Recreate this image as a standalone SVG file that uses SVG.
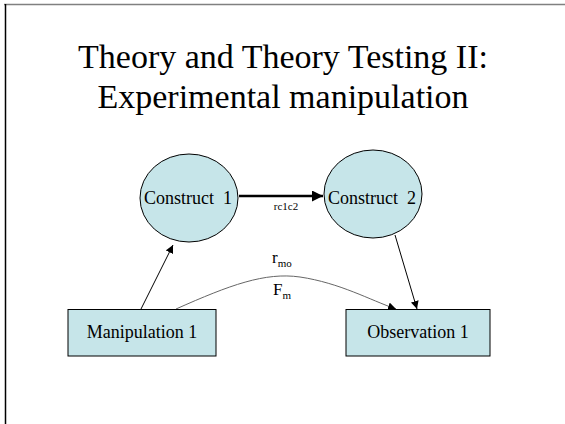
<svg xmlns="http://www.w3.org/2000/svg" width="565" height="424" viewBox="0 0 565 424">
<style>
.t{font-family:"Liberation Serif","Times New Roman",serif;fill:#000}
.node{fill:#c6e5e9;stroke:#000;stroke-width:1}
.lbl{font-size:18px;text-anchor:middle;white-space:pre}
</style>
<defs>
<marker id="ah" viewBox="0 0 10 10" refX="10" refY="5" markerWidth="8" markerHeight="8" markerUnits="userSpaceOnUse" orient="auto"><path d="M0,0 L10,5 L0,10 z" fill="#000"/></marker>
<marker id="ahBig" viewBox="0 0 10 10" refX="10" refY="5" markerWidth="11" markerHeight="11" markerUnits="userSpaceOnUse" orient="auto"><path d="M0,0 L10,5 L0,10 z" fill="#000"/></marker>
</defs>
<rect width="565" height="424" fill="#fff"/>
<line x1="4" y1="4.5" x2="565" y2="4.5" stroke="#808080" stroke-width="1.5"/>
<line x1="5.5" y1="4" x2="5.5" y2="424" stroke="#000" stroke-width="1.5"/>
<g id="title">
<text class="t" x="283" y="68" font-size="34" text-anchor="middle">Theory and Theory Testing II:</text>
<text class="t" x="283" y="108" font-size="34" text-anchor="middle">Experimental manipulation</text>
</g>
<g id="connectors">
<line x1="239" y1="196" x2="323" y2="196" stroke="#000" stroke-width="2.5" marker-end="url(#ahBig)"/>
<line x1="141" y1="309" x2="173" y2="245" stroke="#000" stroke-width="1" marker-end="url(#ah)"/>
<line x1="395" y1="235" x2="417" y2="309" stroke="#000" stroke-width="1" marker-end="url(#ah)"/>
<path d="M176,309 C230,285 265,272 300,277 C340,283 370,300 396,309" fill="none" stroke="#666" stroke-width="1" marker-end="url(#ah)"/>
<text class="t" x="286" y="210" font-size="11" text-anchor="middle">rc1c2</text>
<text class="t" x="272" y="263" font-size="17">r<tspan font-size="11" dy="4">mo</tspan></text>
<text class="t" x="273" y="295" font-size="17">F<tspan font-size="11" dy="4">m</tspan></text>
</g>
<g id="construct1">
<ellipse class="node" cx="189" cy="198" rx="49" ry="44"/>
<text class="t lbl" x="188" y="204" xml:space="preserve">Construct  1</text>
</g>
<g id="construct2">
<ellipse class="node" cx="373" cy="194" rx="49" ry="44"/>
<text class="t lbl" x="372" y="204" xml:space="preserve">Construct  2</text>
</g>
<g id="manipulation1">
<rect class="node" x="68" y="309.5" width="148" height="46.5"/>
<text class="t lbl" x="142" y="338">Manipulation 1</text>
</g>
<g id="observation1">
<rect class="node" x="346" y="309.5" width="144" height="46.5"/>
<text class="t lbl" x="418" y="338">Observation 1</text>
</g>
</svg>
